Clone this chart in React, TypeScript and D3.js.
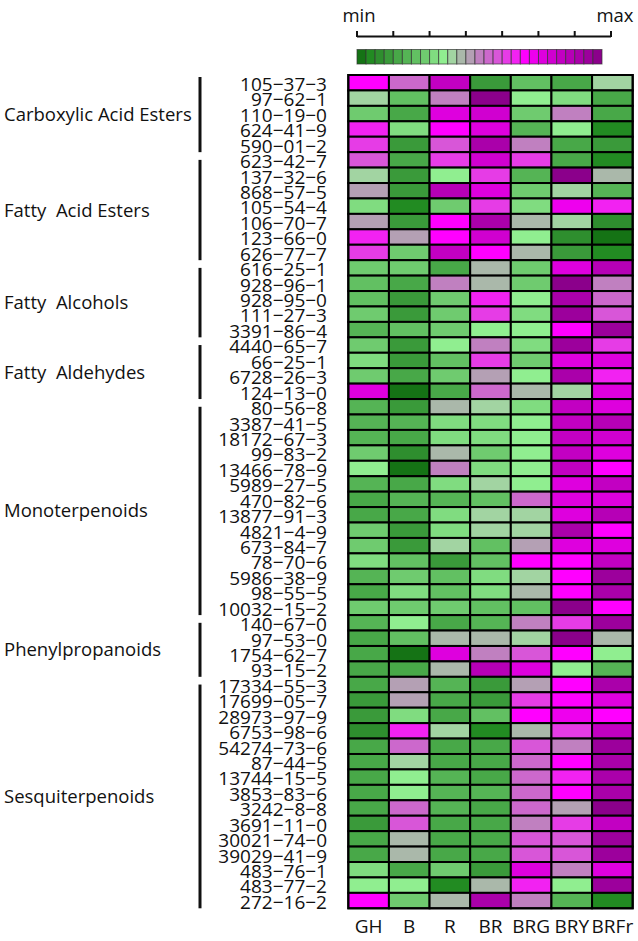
import React from "react";
import * as d3 from "d3";

const columns = ["GH", "B", "R", "BR", "BRG", "BRY", "BRFr"];

const compounds = [
  "105−37−3", "97−62−1", "110−19−0", "624−41−9", "590−01−2",
  "623−42−7", "137−32−6", "868−57−5", "105−54−4", "106−70−7", "123−66−0", "626−77−7",
  "616−25−1", "928−96−1", "928−95−0", "111−27−3", "3391−86−4",
  "4440−65−7", "66−25−1", "6728−26−3", "124−13−0",
  "80−56−8", "3387−41−5", "18172−67−3", "99−83−2", "13466−78−9", "5989−27−5", "470−82−6",
  "13877−91−3", "4821−4−9", "673−84−7", "78−70−6", "5986−38−9", "98−55−5", "10032−15−2",
  "140−67−0", "97−53−0", "1754−62−7", "93−15−2",
  "17334−55−3", "17699−05−7", "28973−97−9", "6753−98−6", "54274−73−6", "87−44−5", "13744−15−5",
  "3853−83−6", "3242−8−8", "3691−11−0", "30021−74−0", "39029−41−9", "483−76−1", "483−77−2", "272−16−2",
];

const groupNames = [
  "Carboxylic Acid Esters", "Fatty  Acid Esters", "Fatty  Alcohols", "Fatty  Aldehydes",
  "Monoterpenoids", "Phenylpropanoids", "Sesquiterpenoids",
];
const groupSizes = [5, 7, 5, 4, 14, 4, 15];

// levels 0 (min) .. 26 (max)
const GH = [18,10,7,17,16,15,10,12,8,12,17,16,7,6,6,7,5,7,8,7,20,5,5,5,7,9,5,4,4,7,7,8,5,4,7,5,4,4,4,4,3,3,2,4,4,4,4,4,3,4,4,8,9,18];
const B = [14,6,4,8,3,4,3,3,1,3,12,7,7,4,3,3,6,3,3,4,0,3,5,4,2,0,4,5,4,3,3,6,7,8,7,9,6,0,4,12,12,8,17,14,10,9,9,14,15,11,11,4,9,7];
const R = [22,13,20,18,15,16,9,23,7,18,18,22,4,13,7,7,7,9,6,7,4,11,8,8,11,13,8,5,8,8,10,3,6,6,7,4,11,20,11,5,4,4,10,4,4,5,5,5,4,4,4,7,1,11];
const BR = [3,26,21,20,24,21,16,20,16,24,21,18,11,11,17,16,9,13,16,12,14,10,8,8,7,8,10,6,10,10,6,6,8,8,6,5,11,13,23,3,3,6,1,4,4,4,5,4,4,4,4,3,11,24];
const BRG = [6,9,7,5,13,16,5,7,8,11,9,11,7,7,9,8,9,8,7,9,11,8,9,9,9,9,9,14,10,10,12,18,10,11,6,13,10,15,20,12,16,18,11,15,14,14,14,14,13,15,15,20,17,13];
const BRY = [4,8,13,9,4,4,26,10,19,10,2,3,20,26,24,25,18,25,20,24,10,22,22,22,22,22,20,20,20,24,20,18,18,18,26,16,26,18,9,18,18,19,16,13,18,17,18,12,16,15,15,13,9,5];
const BRFr = [10,4,4,1,3,1,11,5,17,2,0,1,23,13,14,15,25,16,20,17,20,20,23,21,20,18,22,20,23,18,20,22,25,24,18,25,11,9,5,24,20,18,22,25,24,24,24,26,22,25,25,20,25,1];

const series = [GH, B, R, BR, BRG, BRY, BRFr];

const palette = [
  "#157315", "#228b22", "#2e8e2e", "#3a9a3a", "#48a848", "#55b455", "#62c062",
  "#6fcb6f", "#80dc80", "#90ee90", "#a2d4a2", "#aab8aa", "#b4a0b4", "#c080c0",
  "#cc68cc", "#d856d8", "#e63ce6", "#f222f2", "#ff00ff", "#ee00ee", "#de00de",
  "#d000d0", "#c200c2", "#b600b6", "#aa00aa", "#9c009c", "#8b008b",
];
const levels = d3.range(palette.length);

export default function App() {
  const W = 638, H = 941;
  const font = "'Open Sans', sans-serif";
  const x = d3.scaleBand<string>().domain(columns).range([348.3, 632.7]);
  const y = d3.scaleBand<string>().domain(compounds).range([75, 908.3]);
  const color = d3.scaleOrdinal<number, string>().domain(levels).range(palette);
  const rowH = y.bandwidth();

  const legX = d3.scaleBand<number>().domain(levels).range([357, 602]);
  const tickX = d3.scaleLinear().domain([0, 7]).range([357, 611]);

  const starts = groupSizes.map((_, i) => d3.sum(groupSizes.slice(0, i)));
  const yRow = (r: number) => 75 + r * rowH;

  return (
    <svg width={W} height={H} style={{ position: "absolute", left: 0, top: 0, background: "#fff" }}>
      {/* legend */}
      <text x={359} y={22} fontFamily={font} fontSize={18.5} textAnchor="middle" fill="#111">min</text>
      <text x={615} y={22} fontFamily={font} fontSize={18.5} textAnchor="middle" fill="#111">max</text>
      <line x1={357} x2={611} y1={36.5} y2={36.5} stroke="#111" strokeWidth={2} />
      {d3.range(8).map((i) => (
        <line key={i} x1={tickX(i)} x2={tickX(i)} y1={31} y2={37} stroke="#111" strokeWidth={2} />
      ))}
      {levels.map((l) => (
        <rect key={l} x={legX(l)} y={49.5} width={legX.bandwidth()} height={14.5}
          fill={color(l)} stroke="#333" strokeOpacity={0.7} strokeWidth={1} />
      ))}

      {/* heatmap cells */}
      {series.map((vals, c) =>
        vals.map((v, r) => (
          <rect key={`${c}-${r}`} x={x(columns[c])} y={y(compounds[r])}
            width={x.bandwidth()} height={rowH} fill={color(v)} stroke="#000" strokeWidth={2} />
        ))
      )}
      <rect x={348.3} y={75} width={632.7 - 348.3} height={908.3 - 75} fill="none" stroke="#000" strokeWidth={2} />

      {/* row labels */}
      {compounds.map((c) => (
        <text key={c} x={327} y={(y(c) as number) + rowH / 2 + 8.3} fontFamily={font} fontSize={19}
          textAnchor="end" fill="#111">{c}</text>
      ))}

      {/* column labels */}
      {columns.map((c) => (
        <text key={c} x={(x(c) as number) + x.bandwidth() / 2} y={933} fontFamily={font} fontSize={19}
          textAnchor="middle" fill="#111">{c}</text>
      ))}

      {/* group brackets and labels */}
      {groupNames.map((g, i) => {
        const s = starts[i];
        const e = s + groupSizes[i];
        const top = i === 0 ? yRow(s) + 2 : yRow(s) + rowH / 2;
        const bot = yRow(e);
        const mid = (top + bot) / 2;
        return (
          <g key={g}>
            <line x1={200} x2={200} y1={top} y2={bot} stroke="#111" strokeWidth={3} />
            <text x={4} y={mid + 6.5} fontFamily={font} fontSize={18.5} fill="#111"
              style={{ whiteSpace: "pre" }}>{g}</text>
          </g>
        );
      })}
    </svg>
  );
}
